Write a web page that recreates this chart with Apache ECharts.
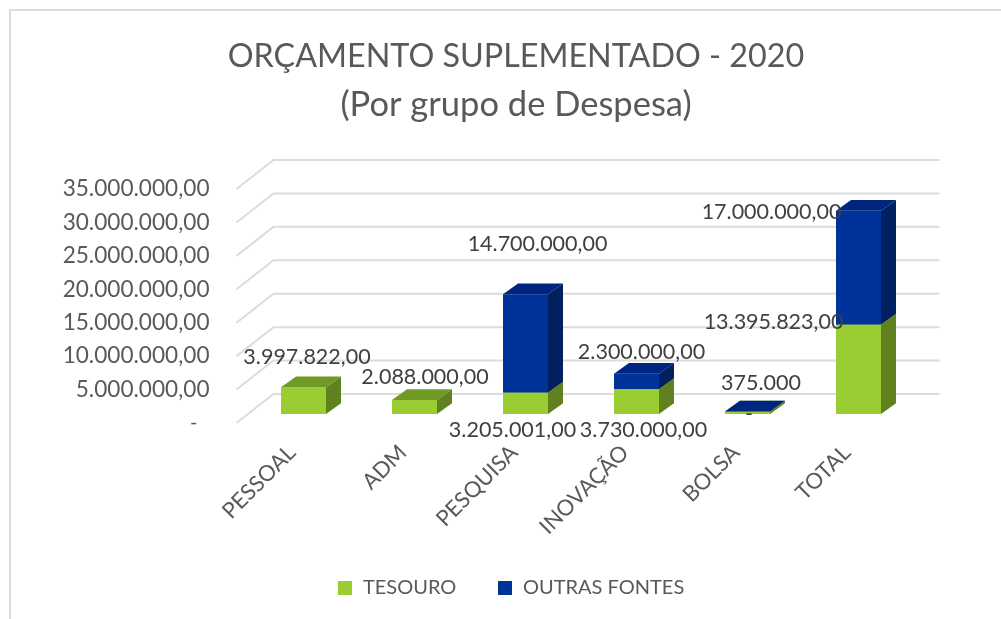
<!DOCTYPE html>
<html><head><meta charset="utf-8">
<style>html,body{margin:0;padding:0;background:#fff}#c{width:1001px;height:619px}</style>
<script src="https://cdn.jsdelivr.net/npm/echarts@6/dist/echarts.min.js"></script>
</head><body><div id="c"></div>
<script>
const categories = ['PESSOAL','ADM','PESQUISA','INOVAÇÃO','BOLSA','TOTAL'];
const tesouro = [3997822, 2088000, 3205001, 3730000, 375000, 13395823];
const outrasFontes = [null, null, 14700000, 2300000, 0, 17000000];
const valueTicks = [0,5000000,10000000,15000000,20000000,25000000,30000000,35000000];
const tesouroLabels = ['3.997.822,00','2.088.000,00','3.205.001,00','3.730.000,00','375.000','13.395.823,00'];
const outrasLabels = ['','','14.700.000,00','2.300.000,00','-','17.000.000,00'];

// layout (screen pixels), not data
const FONT = 'Lato';
const WALL = [37, -29], BAR_SHIFT = [11.5, -9], BAR_W = 45, BAR_D = [15, -10.7];
const tesouroOffsets = [[3.5,-30],[10.5,-23],[-13,37.4],[7,41],[13.5,-28.5],[-85,-2.7]];
const outrasOffsets = [[0,0],[0,0],[12,-50],[5,-21.7],[1.5,2.5],[-87,1.3]];

const fmt = v => {
  if (v === 0) return '{z|-}';
  const [a,b] = v.toFixed(2).split('.');
  return a.replace(/\B(?=(\d{3})+$)/g,'.') + ',' + b;
};

function boxSeries(name, color, side, top, startArr, valArr){
  const data = categories.map((c,i)=>[i, startArr[i], startArr[i]+valArr[i]]).filter(d=>valArr[d[0]]!==null);
  return {
    name, type:'custom', coordinateSystem:'cartesian2d', z:3, data,
    itemStyle:{color}, encode:{x:0,y:[1,2]}, silent:true,
    renderItem(p, api){
      const a = api.coord([api.value(0), api.value(1)]);
      const b = api.coord([api.value(0), api.value(2)]);
      const xl = a[0]+BAR_SHIFT[0]-BAR_W/2, xr = xl+BAR_W;
      const y0 = a[1]+BAR_SHIFT[1], y1 = b[1]+BAR_SHIFT[1];
      const dx = BAR_D[0], dy = BAR_D[1];
      return {type:'group',children:[
        {type:'polygon',shape:{points:[[xl,y0],[xr,y0],[xr,y1],[xl,y1]]},style:{fill:color}},
        {type:'polygon',shape:{points:[[xr,y0],[xr+dx,y0+dy],[xr+dx,y1+dy],[xr,y1]]},style:{fill:side}},
        {type:'polygon',shape:{points:[[xl,y1],[xr,y1],[xr+dx,y1+dy],[xl+dx,y1+dy]]},style:{fill:top}}
      ]};
    }
  };
}
function labelSeries(startArr, valArr, texts, offsets){
  const data = categories.map((c,i)=>[i, startArr[i]+valArr[i], texts[i]]).filter(d=>d[2]!=='');
  return {
    type:'custom', coordinateSystem:'cartesian2d', z:6, silent:true, data,
    encode:{x:0,y:1},
    renderItem(p, api){
      const i = api.value(0);
      const c = api.coord([i, api.value(1)]);
      return {type:'text',style:{
        x:c[0]+BAR_SHIFT[0]+offsets[i][0], y:c[1]+BAR_SHIFT[1]+offsets[i][1],
        text:data[p.dataIndex][2], fill:'#404040', font:'21.5px '+FONT, align:'center', verticalAlign:'middle'
      }};
    }
  };
}
const gridLines = {
  type:'custom', coordinateSystem:'cartesian2d', z:1, silent:true,
  data:valueTicks.map(v=>[0,v]), encode:{x:0,y:1},
  renderItem(p, api){
    const c = api.coord([0, api.value(1)]);
    const x0 = p.coordSys.x, x1 = x0+p.coordSys.width, y = c[1];
    return {type:'polyline',shape:{points:[[x0,y],[x0+WALL[0],y+WALL[1]],[x1+WALL[0],y+WALL[1]]]},
      style:{fill:'none',stroke:'#DCDCDC',lineWidth:2}};
  }
};
const zeros = categories.map(()=>0);
const legendText = {fontFamily:FONT,fontSize:20,color:'#595959'};
const chart = echarts.init(document.getElementById('c'),null,{renderer:'canvas'});
chart.setOption({
  animation:false, backgroundColor:'#fff',
  textStyle:{fontFamily:FONT},
  title:{text:'{a|ORÇAMENTO SUPLEMENTADO - 2020}\n{b|(Por grupo de Despesa)}',left:511,top:28,textAlign:'center',
    textStyle:{fontFamily:FONT,fontWeight:'normal',color:'#595959',
      rich:{a:{fontFamily:FONT,fontSize:32.3,lineHeight:48,color:'#595959'},b:{fontFamily:FONT,fontSize:34.5,lineHeight:48,color:'#595959'}}}},
  legend:[
    {data:['TESOURO'],left:338,top:578,padding:0,icon:'rect',itemWidth:14,itemHeight:14,textStyle:{...legendText,padding:[0,0,0,6]},selectedMode:false},
    {data:['OUTRAS FONTES'],left:498,top:578,padding:0,icon:'rect',itemWidth:14,itemHeight:14,textStyle:{...legendText,padding:[0,0,0,6]},selectedMode:false}
  ],
  grid:{left:236.5,top:189,width:666,height:234,containLabel:false},
  xAxis:{type:'category',data:categories,axisLine:{show:false},axisTick:{show:false},splitLine:{show:false},
    axisLabel:{rotate:45,margin:26,interval:0,color:'#595959',fontSize:22,fontFamily:FONT}},
  yAxis:{type:'value',min:0,max:35000000,interval:5000000,axisLine:{show:false},axisTick:{show:false},splitLine:{show:false},
    axisLabel:{margin:27,formatter:fmt,color:'#595959',fontSize:22.6,fontFamily:FONT,
      rich:{z:{padding:[0,12,0,0],fontSize:20,color:'#595959',fontFamily:FONT}}}},
  graphic:[{type:'polyline',silent:true,shape:{points:[[10,619],[10,10],[1001,10]]},style:{fill:'none',stroke:'#DDDDDD',lineWidth:2}}],
  series:[
    gridLines,
    boxSeries('TESOURO','#9ACD32','#5F821E','#6F9A25',zeros,tesouro),
    boxSeries('OUTRAS FONTES','#003399','#002060','#002580',tesouro,outrasFontes),
    labelSeries(zeros,tesouro,tesouroLabels,tesouroOffsets),
    labelSeries(tesouro,outrasFontes,outrasLabels,outrasOffsets)
  ]
});
</script></body></html>
